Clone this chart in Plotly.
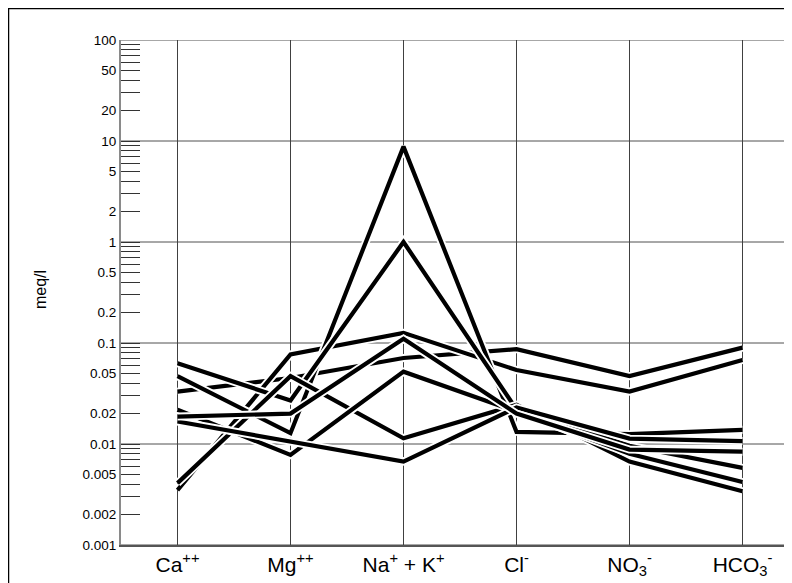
import plotly.graph_objects as go

# ---------------- data ----------------
categories = ["Ca<sup>++</sup>", "Mg<sup>++</sup>", "Na<sup>+</sup> + K<sup>+</sup>",
              "Cl<sup>-</sup>", "NO<sub>3</sub><sup>-</sup>", "HCO<sub>3</sub><sup>-</sup>"]

s1 = [0.033, 0.045, 0.071, 0.087, 0.047, 0.090]
s2 = [0.0035, 0.077, 0.126, 0.054, 0.033, 0.068]
s3 = [0.047, 0.0128, 8.8, 0.0132, 0.0125, 0.0138]
s4 = [0.063, 0.027, 1.0, 0.022, 0.0096, 0.0058]
s5 = [0.0041, 0.047, 0.0114, 0.0244, 0.0067, 0.0034]
s6 = [0.0218, 0.0078, 0.052, 0.021, 0.0080, 0.0042]
s7 = [0.0167, 0.0105, 0.0067, 0.023, 0.0113, 0.0107]
s8 = [0.0187, 0.020, 0.110, 0.020, 0.0088, 0.0084]
series = [s1, s2, s3, s4, s5, s6, s7, s8]

y_label_values = [0.001, 0.002, 0.005, 0.01, 0.02, 0.05, 0.1, 0.2, 0.5,
                  1, 2, 5, 10, 20, 50, 100]
y_label_text = ["0.001", "0.002", "0.005", "0.01", "0.02", "0.05", "0.1", "0.2", "0.5",
                "1", "2", "5", "10", "20", "50", "100"]
decades = [0.001, 0.01, 0.1, 1, 10, 100]
minor_multipliers = [3, 4, 6, 7, 8, 9]

# ---------------- figure ----------------
fig = go.Figure()

for s in series:
    fig.add_trace(go.Scatter(x=categories, y=s, mode="lines",
                             line=dict(color="white", width=8),
                             hoverinfo="skip", showlegend=False))
    fig.add_trace(go.Scatter(x=categories, y=s, mode="lines",
                             line=dict(color="black", width=4.2),
                             showlegend=False))

minor_vals = [d * m for d in decades[:-1] for m in minor_multipliers]

# decade gridlines
for d in decades:
    fig.add_shape(type="line", xref="paper", yref="y", x0=0, x1=1, y0=d, y1=d,
                  line=dict(color="#505050", width=1), layer="below")

W, H = 784, 575          # page body has an 8 px margin
L, T, B = 113, 32, 38
pw = W - L
ph = H - T - B

# outer frame
fig.add_shape(type="rect", xref="paper", yref="paper",
              x0=-L / pw, x1=1.5, y0=-0.5, y1=(H - B) / ph,
              line=dict(color="black", width=2.5), fillcolor="rgba(0,0,0,0)", layer="below")

fig.add_annotation(text="meq/l", xref="paper", yref="paper",
                   x=(32 - L) / pw, y=(H - B - 282) / ph, showarrow=False,
                   textangle=-90, xanchor="center", yanchor="middle",
                   font=dict(family="Liberation Sans, Arial", size=16, color="black"))

fig.update_layout(
    width=W, height=H,
    margin=dict(l=L, r=0, t=T, b=B),
    paper_bgcolor="white", plot_bgcolor="white",
    font=dict(family="Liberation Sans, Arial", color="black"),
    xaxis=dict(type="category", range=[-0.5, -0.5 + pw / 113.0],
               showgrid=True, gridcolor="#404040", gridwidth=1,
               showline=True, linecolor="#555555", linewidth=1.5,
               ticks="", tickfont=dict(size=21, color="black"), zeroline=False),
    yaxis=dict(type="log", range=[-3, 2], showgrid=False,
               tickmode="array", tickvals=y_label_values, ticktext=y_label_text,
               ticks="inside", ticklen=19, tickcolor="#333333", tickwidth=1,
               minor=dict(tickmode="array", tickvals=minor_vals, ticks="inside",
                          ticklen=19, tickcolor="#333333", tickwidth=1, showgrid=False),
               showline=True, linecolor="#8a8a8a", linewidth=2,
               tickfont=dict(size=13.5, color="black"), zeroline=False),
)

fig.write_html("out.html")
